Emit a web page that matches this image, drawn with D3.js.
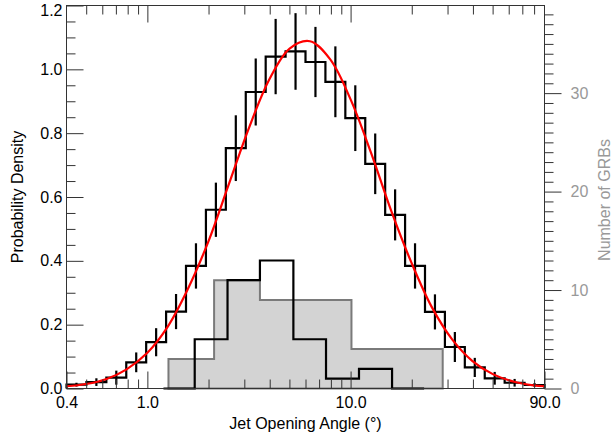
<!DOCTYPE html>
<html>
<head>
<meta charset="utf-8">
<script src="https://cdn.jsdelivr.net/npm/d3@7"></script>
<style>
	body { margin: 0; background: #fff; }
	#wrapper text { font-family: "Liberation Sans", Arial, Helvetica, sans-serif; }
</style>
</head>
<body>
<div id="wrapper"></div>
<script>
// black histogram of the model distribution (24 log bins from 0.4 to 90 deg)
const modelEdges = [0.4, 0.5012, 0.6283, 0.7873, 0.9865, 1.2364, 1.5492, 1.9416, 2.4331, 3.0493,
	3.8214, 4.788, 6.0, 7.5187, 9.4227, 11.808, 14.797, 18.542, 23.237, 29.119, 36.49, 45.73, 57.3, 71.82, 90];
const modelDensity = [0.012, 0.020, 0.034, 0.082, 0.145, 0.241, 0.384, 0.560, 0.753, 0.929, 1.040, 1.056,
	1.023, 0.961, 0.847, 0.704, 0.544, 0.384, 0.240, 0.130, 0.066, 0.032, 0.018, 0.011];
const modelError = [0.006, 0.012, 0.022, 0.031, 0.044, 0.055, 0.071, 0.085, 0.103, 0.105, 0.118, 0.120,
	0.110, 0.111, 0.103, 0.095, 0.080, 0.071, 0.055, 0.047, 0.030, 0.020, 0.012, 0.006];

// red fitted curve
const fitAngle = [0.4, 0.5, 0.63, 0.79, 1.0, 1.26, 1.58, 2.0, 2.51, 3.16, 3.98, 5.01, 6.31,
	7.94, 10.0, 12.6, 15.8, 20.0, 25.1, 31.6, 39.8, 50.1, 63.1, 79.4, 90];
const fitDensity = [0.007, 0.014, 0.030, 0.060, 0.112, 0.194, 0.311, 0.462, 0.638, 0.816, 0.968, 1.065, 1.088,
	1.031, 0.906, 0.739, 0.559, 0.392, 0.255, 0.154, 0.086, 0.045, 0.022, 0.010, 0.007];

// grey filled histogram (right axis, number of GRBs)
const greyEdges = [1.27, 2.13, 3.58, 10.1, 28.4];
const greyCounts = [3, 11, 9, 4];

// black open histogram (right axis, number of GRBs)
const blackEdges = [1.2, 1.71, 2.48, 3.58, 5.23, 7.57, 11.0, 16.0, 23.0];
const blackCounts = [0, 5, 11, 13, 5, 1, 2, 0];

// ticks
const xMajor = [0.4, 1, 10, 90];
const xMinor = [0.5, 0.6, 0.7, 0.8, 0.9, 2, 3, 4, 5, 6, 7, 8, 9, 20, 30, 40, 50, 60, 70, 80];
const yMajor = [0, 0.2, 0.4, 0.6, 0.8, 1.0, 1.2];
const yMinor = [0.05, 0.1, 0.15, 0.25, 0.3, 0.35, 0.45, 0.5, 0.55, 0.65, 0.7, 0.75, 0.85, 0.9, 0.95, 1.05, 1.1, 1.15];
const rMajor = [0, 10, 20, 30];
const rMinor = [1, 2, 3, 4, 5, 6, 7, 8, 9, 11, 12, 13, 14, 15, 16, 17, 18, 19, 21, 22, 23, 24, 25, 26, 27, 28, 29,
	31, 32, 33, 34, 35, 36, 37, 38];

function drawChart() {

	// 1. Dimensions

	let dimensions = {
		width: 613,
		height: 442,
		margin: { top: 5.5, right: 68.5, bottom: 53.5, left: 66.5 }
	};
	dimensions.boundedWidth = dimensions.width - dimensions.margin.left - dimensions.margin.right;
	dimensions.boundedHeight = dimensions.height - dimensions.margin.top - dimensions.margin.bottom;

	const bw = dimensions.boundedWidth;
	const bh = dimensions.boundedHeight;

	// 2. Canvas

	const wrapper = d3.select("#wrapper")
		.append("svg")
		.attr("width", dimensions.width)
		.attr("height", dimensions.height);

	const bounds = wrapper.append("g")
		.attr("transform", `translate(${dimensions.margin.left},${dimensions.margin.top})`);

	// 3. Scales

	const xScale = d3.scaleLog().domain([0.4, 90]).range([0, bw]);
	const yScale = d3.scaleLinear().domain([0, 1.2]).range([bh, 0]);
	const rScale = d3.scaleLinear().domain([0, 38.9]).range([bh, 0]);

	// step outline through a set of bin edges
	function stepPath(edges, values, scaleY) {
		const p = d3.path();
		p.moveTo(xScale(edges[0]), scaleY(0));
		values.forEach((v, i) => {
			p.lineTo(xScale(edges[i]), scaleY(v));
			p.lineTo(xScale(edges[i + 1]), scaleY(v));
		});
		p.lineTo(xScale(edges[edges.length - 1]), scaleY(0));
		return p.toString();
	}

	// 4. Data

	bounds.append("path")
		.attr("d", stepPath(greyEdges, greyCounts, rScale) + "Z")
		.attr("fill", "#d3d3d3")
		.attr("stroke", "#7a7a7a")
		.attr("stroke-width", 2);

	bounds.append("path")
		.attr("d", stepPath(blackEdges, blackCounts, rScale))
		.attr("fill", "none")
		.attr("stroke", "#000")
		.attr("stroke-width", 2.2);

	bounds.append("path")
		.attr("d", stepPath(modelEdges, modelDensity, yScale))
		.attr("fill", "none")
		.attr("stroke", "#000")
		.attr("stroke-width", 2.2);

	const bins = modelDensity.map((d, i) => ({
		x: Math.sqrt(modelEdges[i] * modelEdges[i + 1]),
		v: d,
		e: modelError[i]
	}));

	bounds.append("g")
		.selectAll("line")
		.data(bins)
		.enter()
		.append("line")
		.attr("x1", d => xScale(d.x))
		.attr("x2", d => xScale(d.x))
		.attr("y1", d => yScale(Math.max(0, d.v - d.e)))
		.attr("y2", d => yScale(d.v + d.e))
		.attr("stroke", "#000")
		.attr("stroke-width", 2.2);

	const fitLine = d3.line()
		.x((d, i) => xScale(fitAngle[i]))
		.y(d => yScale(d))
		.curve(d3.curveCatmullRom);

	bounds.append("path")
		.attr("d", fitLine(fitDensity))
		.attr("fill", "none")
		.attr("stroke", "#f00")
		.attr("stroke-width", 2.2);

	// 5. Peripherals

	const tickColor = "#333";

	function styleAxis(g) {
		g.select(".domain").remove();
		g.selectAll(".tick line").attr("stroke", tickColor);
		g.selectAll(".tick text").attr("font-size", 16).attr("fill", "#000");
	}

	// bottom
	bounds.append("g")
		.attr("transform", `translate(0,${bh})`)
		.call(d3.axisBottom(xScale).tickValues(xMajor).tickFormat(d3.format(".1f"))
			.tickSizeInner(-17).tickSizeOuter(0).tickPadding(8))
		.call(styleAxis);
	bounds.append("g")
		.attr("transform", `translate(0,${bh})`)
		.call(d3.axisBottom(xScale).tickValues(xMinor).tickFormat("").tickSizeInner(-9).tickSizeOuter(0))
		.call(styleAxis);

	// top
	bounds.append("g")
		.call(d3.axisTop(xScale).tickValues([1, 10]).tickFormat("").tickSizeInner(-17).tickSizeOuter(0))
		.call(styleAxis);
	bounds.append("g")
		.call(d3.axisTop(xScale).tickValues(xMinor).tickFormat("").tickSizeInner(-9).tickSizeOuter(0))
		.call(styleAxis);

	// left
	const leftAxis = bounds.append("g")
		.call(d3.axisLeft(yScale).tickValues(yMajor).tickFormat(d3.format(".1f"))
			.tickSizeInner(-17).tickSizeOuter(0).tickPadding(4))
		.call(styleAxis);
	// keep the top label inside the page
	leftAxis.selectAll(".tick text")
		.filter(d => d === 1.2)
		.attr("dy", "0.62em");
	bounds.append("g")
		.call(d3.axisLeft(yScale).tickValues(yMinor).tickFormat("").tickSizeInner(-9).tickSizeOuter(0))
		.call(styleAxis);

	// right (number of GRBs)
	const rightAxis = bounds.append("g")
		.attr("transform", `translate(${bw},0)`)
		.call(d3.axisRight(rScale).tickValues(rMajor).tickFormat(d3.format("d"))
			.tickSizeInner(17).tickSizeOuter(0).tickPadding(9))
		.call(styleAxis);
	rightAxis.selectAll(".tick text").attr("fill", "#999");
	bounds.append("g")
		.attr("transform", `translate(${bw},0)`)
		.call(d3.axisRight(rScale).tickValues(rMinor).tickFormat("").tickSizeInner(9).tickSizeOuter(0))
		.call(styleAxis);

	// frame
	bounds.append("rect")
		.attr("width", bw)
		.attr("height", bh)
		.attr("fill", "none")
		.attr("stroke", tickColor)
		.attr("stroke-width", 1);

	// labels
	bounds.append("text")
		.attr("x", bw / 2)
		.attr("y", bh + 40)
		.attr("text-anchor", "middle")
		.attr("font-size", 16)
		.text("Jet Opening Angle (°)");

	bounds.append("text")
		.attr("transform", `translate(${23 - dimensions.margin.left},${bh / 2}) rotate(-90)`)
		.attr("text-anchor", "middle")
		.attr("font-size", 16)
		.text("Probability Density");

	bounds.append("text")
		.attr("transform", `translate(${610 - dimensions.margin.left},${bh / 2 + 3}) rotate(-90)`)
		.attr("text-anchor", "middle")
		.attr("font-size", 16)
		.attr("fill", "#999")
		.text("Number of GRBs");
}

drawChart();
</script>
</body>
</html>
